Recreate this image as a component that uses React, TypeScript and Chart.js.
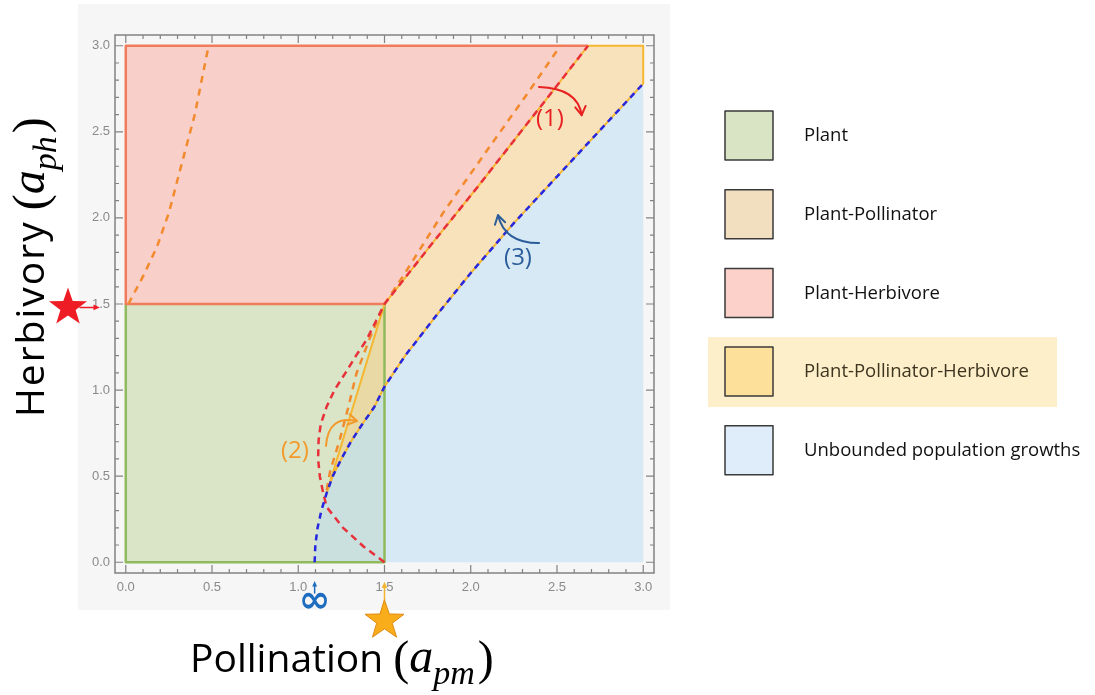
import React, { useEffect, useRef } from "react";
import { Chart, registerables } from "chart.js";

Chart.register(...registerables);

// ---------------- data ----------------
const axisMin = -0.0625;
const axisMax = 3.0625;
const majorTicks = [0, 0.5, 1, 1.5, 2, 2.5, 3];
const minorStep = 0.1;

const plantRangeX = [0, 1.5];
const plantRangeY = [0, 1.5];
const herbivoreRangeY = [1.5, 3];
const domainMax = 3;

// boundary of unbounded growth (blue dashed)
const blueCurveX = [1.095, 1.099, 1.112, 1.134, 1.164, 1.2, 1.25, 1.305, 1.37, 1.44, 1.5, 1.62, 1.79, 2.0, 2.25, 2.5, 2.75, 3.0];
const blueCurveY = [0, 0.1, 0.2, 0.3, 0.4, 0.5, 0.6, 0.7, 0.8, 0.9, 1.02, 1.2, 1.42, 1.68, 1.97, 2.24, 2.51, 2.78];

// herbivore / pollinator boundary (red dashed)
const redCurveX = [1.5, 1.38, 1.26, 1.165, 1.145, 1.125, 1.115, 1.118, 1.13, 1.163, 1.21, 1.28, 1.335, 1.395, 1.45, 1.5, 1.775, 2.04, 2.29, 2.47, 2.68];
const redCurveY = [0, 0.09, 0.2, 0.32, 0.4, 0.5, 0.6, 0.71, 0.8, 0.9, 1.0, 1.11, 1.2, 1.29, 1.4, 1.5, 1.85, 2.18, 2.5, 2.73, 3.0];

// orange dashed curves
const orangeLeftX = [0.015, 0.1, 0.18, 0.25, 0.31, 0.4, 0.48];
const orangeLeftY = [1.5, 1.66, 1.83, 2.03, 2.26, 2.6, 3.0];
const orangeRightX = [1.165, 1.185, 1.24, 1.29, 1.337, 1.41, 1.5, 1.6, 1.84, 2.1, 2.32, 2.52];
const orangeRightY = [0.42, 0.53, 0.71, 0.9, 1.095, 1.29, 1.5, 1.65, 2.03, 2.4, 2.71, 3.0];

// solid boundary of the plant-pollinator-herbivore wedge
const pphLineX = [1.164, 1.5];
const pphLineY = [0.4, 1.5];

// legend
const legendLabels = ["Plant", "Plant-Pollinator", "Plant-Herbivore", "Plant-Pollinator-Herbivore", "Unbounded population growths"];
const legendColors = ["#d8e4c4", "#f1dfc0", "#fbd1c9", "#fde19b", "#deedf9"];
const highlightedLegend = 3;

// annotations (data units)
const noteLabels = ["(1)", "(2)", "(3)"];
const noteColors = ["#e8201f", "#f39a2c", "#2b5d9b"];
const noteX = [2.459, 0.981, 2.274];
const noteY = [2.573, 0.647, 1.765];
const arrowStartX = [2.396, 1.161, 2.396];
const arrowStartY = [2.761, 0.675, 1.854];
const arrowCtrlX = [2.621, 1.172, 2.198];
const arrowCtrlY = [2.754, 0.855, 1.853];
const arrowEndX = [2.643, 1.34, 2.158];
const arrowEndY = [2.597, 0.82, 2.016];

// threshold markers
const redStar = { x: -0.335, y: 1.48, arrowFromX: -0.265, arrowToX: -0.15 };
const orangeStar = { x: 1.5, y: -0.339, arrowFromY: -0.22, arrowToY: -0.113 };
const infinityMark = { x: 1.095, y: -0.225, arrowFromY: -0.179, arrowToY: -0.109 };

// ---------------- derived geometry ----------------
type P = { x: number; y: number };
const pts = (xs: number[], ys: number[]): P[] => xs.map((x, i) => ({ x, y: ys[i] }));

const blueAll = pts(blueCurveX, blueCurveY);
const redAll = pts(redCurveX, redCurveY);
const redUpper = redAll.filter((p) => p.y >= herbivoreRangeY[0]);
const pphLine = pts(pphLineX, pphLineY);

const plantPoly: P[] = [
  { x: plantRangeX[0], y: plantRangeY[0] },
  { x: plantRangeX[0], y: plantRangeY[1] },
  { x: plantRangeX[1], y: plantRangeY[1] },
  { x: plantRangeX[1], y: plantRangeY[0] },
];
const herbPoly: P[] = [
  { x: 0, y: herbivoreRangeY[0] },
  { x: 0, y: herbivoreRangeY[1] },
  ...redUpper.slice().reverse(),
];
const bluePoly: P[] = [...blueAll, { x: domainMax, y: 0 }];
const pphPoly: P[] = [
  ...pphLine,
  ...redUpper.slice(1),
  { x: domainMax, y: domainMax },
  ...blueAll.filter((p) => p.y >= pphLineY[0]).reverse(),
];
const greenBorder: P[] = [
  { x: plantRangeX[0], y: plantRangeY[1] },
  { x: plantRangeX[0], y: plantRangeY[0] },
  { x: plantRangeX[1], y: plantRangeY[0] },
  { x: plantRangeX[1], y: plantRangeY[1] },
];
const redBorder: P[] = [
  { x: plantRangeX[1], y: herbivoreRangeY[0] },
  { x: 0, y: herbivoreRangeY[0] },
  { x: 0, y: herbivoreRangeY[1] },
  redUpper[redUpper.length - 1],
];
const yellowBorder: P[] = [...pphPoly, pphPoly[0]];

// ---------------- drawing helpers ----------------
const fillSet = (data: P[], color: string) => ({
  data,
  showLine: true,
  fill: "shape",
  backgroundColor: color,
  borderWidth: 0,
  borderColor: "transparent",
  pointRadius: 0,
});
const lineSet = (data: P[], color: string, width: number, dash: number[] = []) => ({
  data,
  showLine: true,
  fill: false,
  borderColor: color,
  borderWidth: width,
  borderDash: dash,
  borderCapStyle: "butt",
  borderJoinStyle: "round",
  pointRadius: 0,
});

function drawStar(ctx: CanvasRenderingContext2D, cx: number, cy: number, R: number, fill: string, stroke?: string) {
  const r = R * 0.4;
  ctx.beginPath();
  for (let i = 0; i < 10; i++) {
    const ang = -Math.PI / 2 + (i * Math.PI) / 5;
    const rad = i % 2 === 0 ? R : r;
    const x = cx + rad * Math.cos(ang);
    const y = cy + rad * Math.sin(ang);
    if (i === 0) ctx.moveTo(x, y);
    else ctx.lineTo(x, y);
  }
  ctx.closePath();
  ctx.fillStyle = fill;
  ctx.fill();
  if (stroke) {
    ctx.strokeStyle = stroke;
    ctx.lineWidth = 1;
    ctx.stroke();
  }
}

function straightArrow(ctx: CanvasRenderingContext2D, x1: number, y1: number, x2: number, y2: number, color: string, width: number, head: number) {
  const ang = Math.atan2(y2 - y1, x2 - x1);
  ctx.strokeStyle = color;
  ctx.lineWidth = width;
  ctx.beginPath();
  ctx.moveTo(x1, y1);
  ctx.lineTo(x2 - head * 0.7 * Math.cos(ang), y2 - head * 0.7 * Math.sin(ang));
  ctx.stroke();
  ctx.fillStyle = color;
  ctx.beginPath();
  ctx.moveTo(x2, y2);
  ctx.lineTo(x2 - head * Math.cos(ang - 0.42), y2 - head * Math.sin(ang - 0.42));
  ctx.lineTo(x2 - head * Math.cos(ang + 0.42), y2 - head * Math.sin(ang + 0.42));
  ctx.closePath();
  ctx.fill();
}

function curvedArrow(ctx: CanvasRenderingContext2D, sx: number, sy: number, cx: number, cy: number, ex: number, ey: number, color: string) {
  ctx.strokeStyle = color;
  ctx.lineWidth = 2;
  ctx.lineCap = "round";
  ctx.lineJoin = "round";
  ctx.beginPath();
  ctx.moveTo(sx, sy);
  ctx.quadraticCurveTo(cx, cy, ex, ey);
  ctx.stroke();
  const ang = Math.atan2(ey - cy, ex - cx);
  const h = 10;
  ctx.beginPath();
  ctx.moveTo(ex - h * Math.cos(ang - 0.55), ey - h * Math.sin(ang - 0.55));
  ctx.lineTo(ex, ey);
  ctx.lineTo(ex - h * Math.cos(ang + 0.55), ey - h * Math.sin(ang + 0.55));
  ctx.stroke();
}

function drawMathTitle(ctx: CanvasRenderingContext2D, word: string, variable: string, sub: string, x: number, y: number, spacing: number) {
  let cx = x;
  ctx.fillStyle = "#000";
  ctx.textAlign = "left";
  ctx.textBaseline = "alphabetic";
  const anyCtx = ctx as any;
  const seg = (text: string, font: string, dy = 0, ls = 0) => {
    ctx.font = font;
    anyCtx.letterSpacing = ls + "px";
    ctx.fillText(text, cx, y + dy);
    cx += ctx.measureText(text).width;
    anyCtx.letterSpacing = "0px";
  };
  seg(word, "39px 'Open Sans'", 0, spacing);
  seg(" ", "39px 'Open Sans'");
  seg("(", "48px 'Liberation Serif'", 2);
  seg(variable, "italic 48px 'Liberation Serif'");
  seg(sub, "italic 34px 'Liberation Serif'", 12);
  cx += 3;
  seg(")", "48px 'Liberation Serif'", 2);
}

const decorPlugin = {
  id: "decor",
  beforeDraw(chart: any) {
    const { ctx, chartArea: a } = chart;
    ctx.save();
    ctx.fillStyle = "#ffffff";
    ctx.fillRect(0, 0, chart.width, chart.height);
    ctx.fillStyle = "#f6f6f6";
    ctx.fillRect(a.left - 37, a.top - 31, a.right - a.left + 53, a.bottom - a.top + 68);
    ctx.restore();
  },
  afterDatasetsDraw(chart: any) {
    const { ctx, chartArea: a, scales } = chart;
    ctx.save();
    ctx.strokeStyle = "#828282";
    ctx.lineWidth = 1.5;
    ctx.strokeRect(a.left, a.top, a.right - a.left, a.bottom - a.top);
    ctx.lineWidth = 1.2;
    const n = Math.round((majorTicks[majorTicks.length - 1] - majorTicks[0]) / minorStep);
    for (let i = 0; i <= n; i++) {
      const v = majorTicks[0] + i * minorStep;
      const len = i % 5 === 0 ? 8 : 4;
      const px = scales.x.getPixelForValue(v);
      const py = scales.y.getPixelForValue(v);
      ctx.beginPath();
      ctx.moveTo(px, a.bottom);
      ctx.lineTo(px, a.bottom - len);
      ctx.moveTo(px, a.top);
      ctx.lineTo(px, a.top + len);
      ctx.moveTo(a.left, py);
      ctx.lineTo(a.left + len, py);
      ctx.moveTo(a.right, py);
      ctx.lineTo(a.right - len, py);
      ctx.stroke();
    }
    ctx.restore();
  },
  afterDraw(chart: any) {
    const { ctx, chartArea: a, scales } = chart;
    const X = (v: number) => scales.x.getPixelForValue(v);
    const Y = (v: number) => scales.y.getPixelForValue(v);
    ctx.save();

    // region annotations
    noteLabels.forEach((label, i) => {
      curvedArrow(ctx, X(arrowStartX[i]), Y(arrowStartY[i]), X(arrowCtrlX[i]), Y(arrowCtrlY[i]), X(arrowEndX[i]), Y(arrowEndY[i]), noteColors[i]);
      ctx.fillStyle = noteColors[i];
      ctx.font = "24px 'Open Sans'";
      ctx.textAlign = "center";
      ctx.textBaseline = "middle";
      ctx.fillText(label, X(noteX[i]), Y(noteY[i]));
    });

    // red star (herbivory threshold)
    drawStar(ctx, X(redStar.x), Y(redStar.y), 20, "#ee1c24");
    straightArrow(ctx, X(redStar.arrowFromX), Y(redStar.y), X(redStar.arrowToX), Y(redStar.y), "#ee1c24", 1.5, 7);

    // orange star (pollination threshold)
    straightArrow(ctx, X(orangeStar.x), Y(orangeStar.arrowFromY), X(orangeStar.x), Y(orangeStar.arrowToY), "#f2b431", 1.5, 7);
    drawStar(ctx, X(orangeStar.x), Y(orangeStar.y), 20.5, "#f9ad1a", "#e08a12");

    // infinity marker
    straightArrow(ctx, X(infinityMark.x), Y(infinityMark.arrowFromY), X(infinityMark.x), Y(infinityMark.arrowToY), "#1c6cc0", 1.5, 6);
    ctx.fillStyle = "#1c6cc0";
    ctx.font = "bold 38px 'DejaVu Sans'";
    ctx.textAlign = "center";
    ctx.textBaseline = "middle";
    ctx.fillText("\u221E", X(infinityMark.x), Y(infinityMark.y) + 1);

    // axis titles
    drawMathTitle(ctx, "Pollination", "a", "pm", a.left + 75, a.bottom + 99, 0);
    ctx.save();
    ctx.translate(a.left - 71, a.top + 382);
    ctx.rotate(-Math.PI / 2);
    drawMathTitle(ctx, "Herbivory", "a", "ph", 0, 0, 2);
    ctx.restore();

    // legend
    const lx = a.right + 71;
    const ly = a.top + 76;
    const step = 78.7;
    const hy = ly + highlightedLegend * step;
    ctx.fillStyle = "#fcefc9";
    ctx.fillRect(a.right + 54, hy - 10, 349, 70);
    legendLabels.forEach((label, i) => {
      const top = ly + i * step;
      ctx.fillStyle = legendColors[i];
      ctx.fillRect(lx, top, 48, 49);
      ctx.strokeStyle = "#3a3a3a";
      ctx.lineWidth = 1.5;
      ctx.strokeRect(lx, top, 48, 49);
      ctx.fillStyle = i === highlightedLegend ? "#3d3520" : "#111111";
      ctx.font = "18.5px 'Open Sans'";
      ctx.textAlign = "left";
      ctx.textBaseline = "middle";
      ctx.fillText(label, a.right + 150, top + 25);
    });

    ctx.restore();
  },
};

export default function App() {
  const ref = useRef<HTMLCanvasElement>(null);
  useEffect(() => {
    document.body.style.margin = "0";
    const canvas = ref.current;
    if (!canvas) return;
    const layers = [
      fillSet(plantPoly, "#d9e5c6"),
      fillSet(herbPoly, "#f9cfc9"),
      fillSet(bluePoly, "rgba(185,220,245,0.5)"),
      fillSet(pphPoly, "rgba(250,205,130,0.5)"),
      lineSet(greenBorder, "#8fba5e", 2.5),
      lineSet(redBorder, "#f07c5c", 2.5),
      lineSet(yellowBorder, "#f5b731", 2),
      lineSet(pts(orangeLeftX, orangeLeftY), "#f28a2e", 2.5, [7, 6]),
      lineSet(pts(orangeRightX, orangeRightY), "#f28a2e", 2.5, [7, 6]),
      lineSet(redAll, "#e8303a", 2.5, [7, 5]),
      lineSet(blueAll, "#2626e0", 2.5, [6, 5]),
    ];
    const datasets = layers.map((d, i) => ({ ...d, order: 100 - i }));
    const chart = new Chart(canvas, {
      type: "scatter",
      data: { datasets: datasets as any },
      options: {
        responsive: false,
        animation: false,
        devicePixelRatio: 1,
        events: [],
        layout: { padding: { left: 0, top: 35, right: 441, bottom: 0 } },
        plugins: { legend: { display: false }, tooltip: { enabled: false } },
        elements: { point: { radius: 0, hoverRadius: 0 }, line: { tension: 0 } },
        scales: {
          x: {
            type: "linear",
            min: axisMin,
            max: axisMax,
            grid: { display: false, drawTicks: false },
            border: { display: false },
            afterFit: (s: any) => {
              s.height = 122;
            },
            afterBuildTicks: (s: any) => {
              s.ticks = majorTicks.map((v) => ({ value: v }));
            },
            ticks: {
              callback: (v: any) => Number(v).toFixed(1),
              color: "#8a8a8a",
              font: { family: "'Liberation Sans'", size: 13 },
              padding: 7,
              autoSkip: false,
              maxRotation: 0,
            },
          },
          y: {
            type: "linear",
            min: axisMin,
            max: axisMax,
            grid: { display: false, drawTicks: false },
            border: { display: false },
            afterFit: (s: any) => {
              s.width = 115;
            },
            afterBuildTicks: (s: any) => {
              s.ticks = majorTicks.map((v) => ({ value: v }));
            },
            ticks: {
              callback: (v: any) => Number(v).toFixed(1),
              color: "#8a8a8a",
              font: { family: "'Liberation Sans'", size: 13 },
              padding: 5,
              autoSkip: false,
            },
          },
        },
      },
      plugins: [decorPlugin],
    } as any);
    return () => chart.destroy();
  }, []);
  return (
    <div style={{ position: "absolute", left: 0, top: 0, width: 1095, height: 695, background: "#fff" }}>
      <canvas ref={ref} width={1095} height={695} style={{ display: "block", width: 1095, height: 695 }} />
    </div>
  );
}
